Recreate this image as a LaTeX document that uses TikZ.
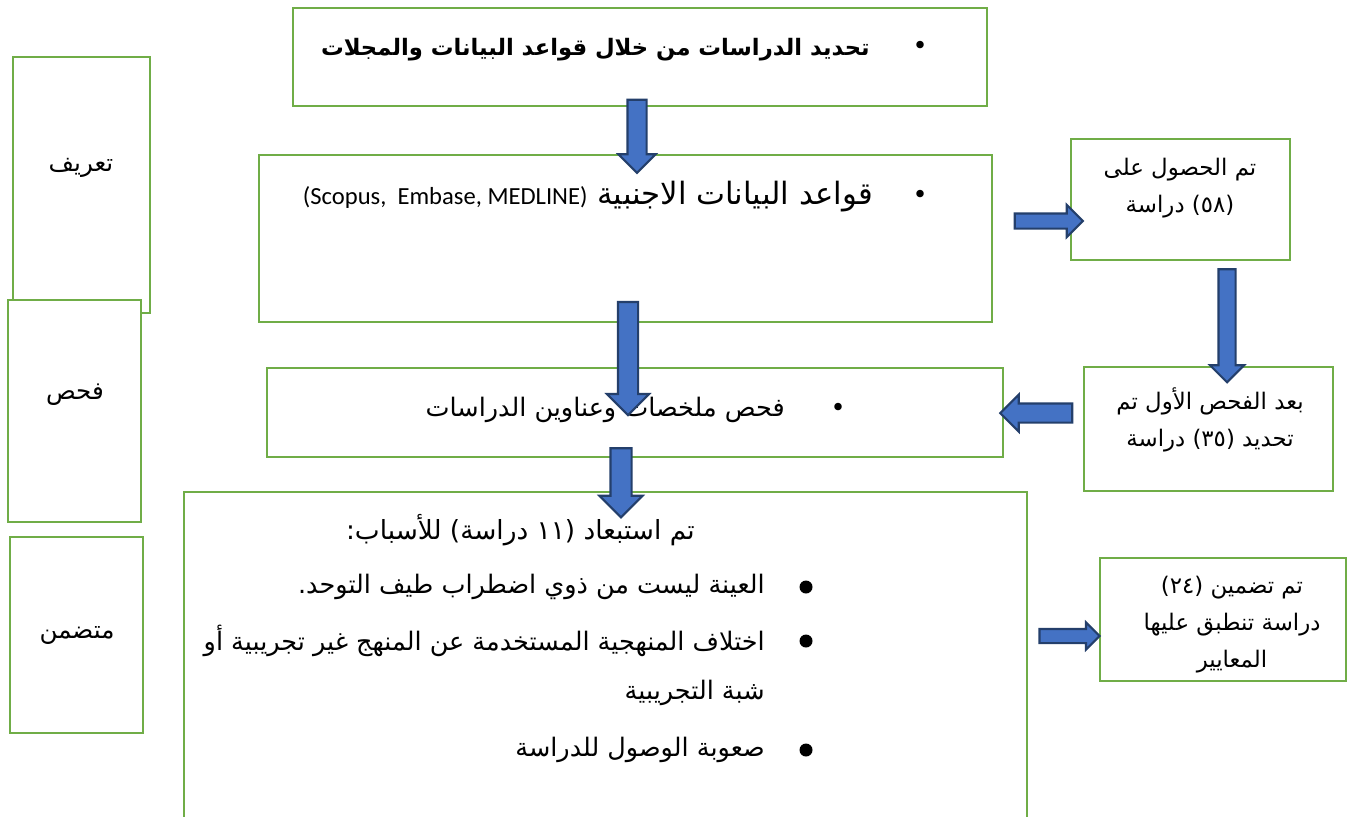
\documentclass[tikz,border=0pt]{standalone}
\usepackage{fontspec}
\usetikzlibrary{shapes.arrows,fit}
\TeXXeTstate=1
\newfontfamily\arabicfont[Script=Arabic]{DejaVu Sans}
\newfontfamily\latinfont{Carlito}
\definecolor{boxgreen}{HTML}{70AD47}
\definecolor{arrowblue}{HTML}{4472C4}
\definecolor{arrowline}{HTML}{243F6B}
\tikzset{
  box/.style={draw=boxgreen, line width=1.6pt, fill=white, inner sep=0pt},
  barrow/.style={single arrow, draw=arrowline, fill=arrowblue, line width=1.2pt,
    inner xsep=0pt, single arrow tip angle=90},
  mtext/.style={inner sep=0pt, font=\arabicfont\fontsize{14.5}{17}\selectfont},
  stext/.style={inner sep=0pt, align=center, font=\arabicfont\fontsize{13}{21}\selectfont}
}
\begin{document}
\begin{tikzpicture}[x=0.02cm, y=-0.02cm]
  \useasboundingbox (0,0) rectangle (1351,816);
  % main column
  \node[box, fit={(293,8) (987,106)}] (search) {};
  \node[box, fit={(259,155) (992,322)}] (dbase) {};
  \node[box, fit={(267,368) (1003,457)}] (screen) {};
  \node[box, fit={(184,492) (1027,830)}] (excl) {};
  % right column
  \node[box, fit={(1071,139) (1290,260)}] (found) {};
  \node[box, fit={(1084,367) (1333,491)}] (first) {};
  \node[box, fit={(1100,558) (1346,681)}] (incl) {};
  % left column
  \node[box, fit={(13,57) (150,313)}] (ident) {};
  \node[box, fit={(8,300) (141,522)}] (check) {};
  \node[box, fit={(10,537) (143,733)}] (incd) {};

  \node[mtext, font=\arabicfont\bfseries\fontsize{12.9}{17}\selectfont, anchor=east] (t1) at (870,50)
    {\beginR تحديد الدراسات من خلال قواعد البيانات والمجلات\endR};
  \node[mtext] (b1) at (920,48) {•};
  \node[mtext, font=\arabicfont\fontsize{17.5}{20}\selectfont, anchor=east] (t2) at (873,197)
    {\beginR قواعد البيانات الاجنبية \beginL{\latinfont\fontsize{14}{17}\selectfont (Scopus,\ \ Embase, MEDLINE)}\endL\endR};
  \node[mtext] (b2) at (920,197) {•};
  \node[mtext, anchor=east] (t3) at (785,410) {\beginR فحص ملخصات وعناوين الدراسات\endR};
  \node[mtext] (b3) at (838,410) {•};

  \node[mtext, font=\arabicfont\fontsize{15}{17}\selectfont, anchor=east] (t4) at (695,530) {\beginR تم استبعاد (١١ دراسة) للأسباب:\endR};
  \node[mtext, anchor=east] (r1) at (765,587) {\beginR العينة ليست من ذوي اضطراب طيف التوحد.\endR};
  \node[mtext, anchor=east] (r2) at (765,641) {\beginR اختلاف المنهجية المستخدمة عن المنهج غير تجريبية أو\endR};
  \node[mtext, anchor=east] (r2b) at (765,693) {\beginR شبة التجريبية\endR};
  \node[mtext, anchor=east] (r3) at (765,750) {\beginR صعوبة الوصول للدراسة\endR};
  \foreach \y in {587,641,750} {
    \fill (806,\y) circle (6.5);
  }

  \node[stext] (t5) at (1180,188) {\beginR تم الحصول على\endR\\\beginR (٥٨) دراسة\endR};
  \node[stext] (t6) at (1210,420) {\beginR بعد الفحص الأول تم\endR\\\beginR تحديد (٣٥) دراسة\endR};
  \node[stext] (t7) at (1232,625) {\beginR تم تضمين (٢٤)\endR\\\beginR دراسة تنطبق عليها\endR\\\beginR المعايير\endR};

  \node[stext, font=\arabicfont\fontsize{14}{17}\selectfont] (l1) at (81,168) {\beginR تعريف\endR};
  \node[stext, font=\arabicfont\fontsize{14}{17}\selectfont] (l2) at (75,395) {\beginR فحص\endR};
  \node[stext, font=\arabicfont\fontsize{14}{17}\selectfont] (l3) at (77,635) {\beginR متضمن\endR};

  % block arrows
  \node[barrow, rotate=-90, minimum height=14.6mm, inner ysep=1.7mm, single arrow head extend=1.8mm] (a1) at (637,131.5) {};
  \node[barrow, rotate=-90, minimum height=22.6mm, inner ysep=1.8mm, single arrow head extend=2.2mm] (a2) at (628,353.5) {};
  \node[barrow, rotate=-90, minimum height=13.8mm, inner ysep=1.9mm, single arrow head extend=2.2mm] (a3) at (621,477.5) {};
  \node[barrow, minimum height=13.6mm, inner ysep=1.3mm, single arrow head extend=1.7mm] (a4) at (1045,221) {};
  \node[barrow, rotate=-90, minimum height=22.6mm, inner ysep=1.5mm, single arrow head extend=1.7mm] (a5) at (1227,321.5) {};
  \node[barrow, rotate=180, minimum height=14.4mm, inner ysep=1.7mm, single arrow head extend=1.8mm] (a6) at (1041,413) {};
  \node[barrow, minimum height=12mm, inner ysep=1.2mm, single arrow head extend=1.3mm] (a7) at (1066,636) {};
\end{tikzpicture}
\end{document}
